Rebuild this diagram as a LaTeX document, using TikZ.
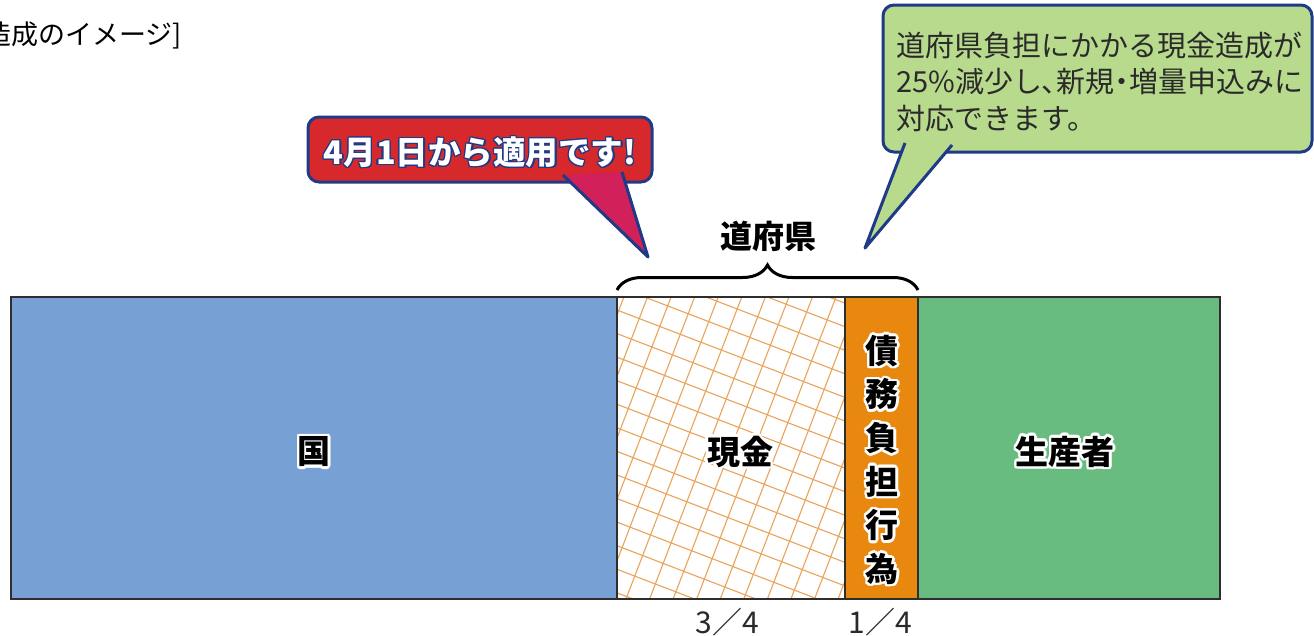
\documentclass[tikz,border=0pt]{standalone}
\usepackage{fontspec}
\setmainfont{Noto Sans CJK JP}
\newfontfamily\paltfont[RawFeature=+palt]{Noto Sans CJK JP}
\usepackage[copies]{contour}
\contournumber{16}
\usetikzlibrary{decorations.pathreplacing,calc}
\definecolor{blueb}{HTML}{77A1D5}
\definecolor{greenb}{HTML}{68BC7F}
\definecolor{orangeb}{HTML}{E8880F}
\definecolor{hatchc}{HTML}{E9A45A}
\definecolor{outl}{HTML}{2E2E2E}
\definecolor{redbox}{HTML}{D7282C}
\definecolor{redtail}{HTML}{D2205A}
\definecolor{navyb}{HTML}{1F3A86}
\definecolor{greenbox}{HTML}{B7DA8D}
\definecolor{txtc}{HTML}{2A2A2A}
\tikzset{
  seg/.style={draw=outl, line width=1.3pt},
  callout/.style={draw=navyb, line width=3pt, rounded corners=11pt},
  tailedge/.style={draw=navyb, line width=3pt, line join=round},
  lbl/.style={font=\bfseries\fontsize{33}{40}\selectfont, text=black, inner sep=0pt},
  hatchline/.style={draw=hatchc, line width=1.1pt},
  small/.style={font=\fontsize{29}{36}\selectfont, text=txtc, inner sep=0pt, anchor=west},
}
\begin{document}
\begin{tikzpicture}[x=1pt,y=-1pt]
\useasboundingbox (0,0) rectangle (1314,635);
% title fragment
\node[font=\fontsize{27}{30}\selectfont, text=black, anchor=east, inner sep=0pt] (title) at (182,35) {造成のイメージ]};
% bar segments
\fill[blueb] (11,297) rectangle (617,599);
\fill[white] (617,297) rectangle (845,599);
\begin{scope}
  \clip (617,297) rectangle (845,599);
  \foreach \k in {-14,...,14} {
    \draw[hatchline] ({731-0.358*22*\k-400*0.934},{448+0.934*22*\k-400*0.358}) -- ({731-0.358*22*\k+400*0.934},{448+0.934*22*\k+400*0.358});
    \draw[hatchline] ({731+0.934*22*\k-400*0.358},{448+0.358*22*\k+400*0.934}) -- ({731+0.934*22*\k+400*0.358},{448+0.358*22*\k-400*0.934});
  }
\end{scope}
\fill[orangeb] (845,297) rectangle (918,599);
\fill[greenb] (918,297) rectangle (1220,599);
\draw[seg] (11,297) rectangle (1220,599);
\draw[seg] (617,297) -- (617,599);
\draw[seg] (845,297) -- (845,599);
\draw[seg] (918,297) -- (918,599);
% labels
{\contourlength{2.5pt}
\node[lbl] (kuni) at (314,453) {\contour{white}{国}};
\node[lbl] (genkin) at (740,453) {\contour{white}{現金}};
\node[lbl] (seisan) at (1065,453) {\contour{white}{生産者}};
\node[lbl, align=center, font=\bfseries\fontsize{33}{43.6}\selectfont] (saimu) at (882,461) {\contour{white}{債}\\\contour{white}{務}\\\contour{white}{負}\\\contour{white}{担}\\\contour{white}{行}\\\contour{white}{為}};
}
% brace
\coordinate (bl) at (617,290);
\coordinate (br) at (918,290);
\draw[line width=3pt, decorate, decoration={brace, amplitude=25pt}] (bl) -- (br);
\node[lbl, font=\bfseries\fontsize{32}{38}\selectfont] (dofuken) at (768,236) {道府県};
% fractions
\node[font=\fontsize{30}{36}\selectfont, text=txtc, inner sep=0pt] (f34) at (727,622) {3／4};
\node[font=\fontsize{30}{36}\selectfont, text=txtc, inner sep=0pt] (f14) at (880,622) {1／4};
% red callout
\draw[callout, fill=redbox] (308,117) rectangle (652,182);
\coordinate (rt1) at (563,175);
\coordinate (rtip) at (648,257);
\coordinate (rt2) at (622,172);
\fill[redtail] (rt1) -- (rtip) -- (rt2) -- cycle;
\draw[tailedge] (rt1) -- (rtip) -- (rt2);
{\contourlength{1.3pt}
\node[font=\bfseries\fontsize{32.5}{36}\selectfont, inner sep=0pt] (redtxt) at (480,153) {\contour{navyb}{\textcolor{white}{4月1日から適用です!}}};
}
% green callout
\draw[callout, fill=greenbox] (883,5) rectangle (1312,152);
\coordinate (gt1) at (905,143);
\coordinate (gtip) at (865,248);
\coordinate (gt2) at (952,145);
\fill[greenbox] (gt1) -- (gtip) -- (gt2) -- cycle;
\draw[tailedge] (gt1) -- (gtip) -- (gt2);
\node[small] (g1) at (896,45) {道府県負担にかかる現金造成が};
\node[small] (g2) at (896,82) {25\%減少し{\paltfont 、}新規{\paltfont ・}増量申込みに};
\node[small] (g3) at (896,118) {対応できます。};
\end{tikzpicture}
\end{document}
